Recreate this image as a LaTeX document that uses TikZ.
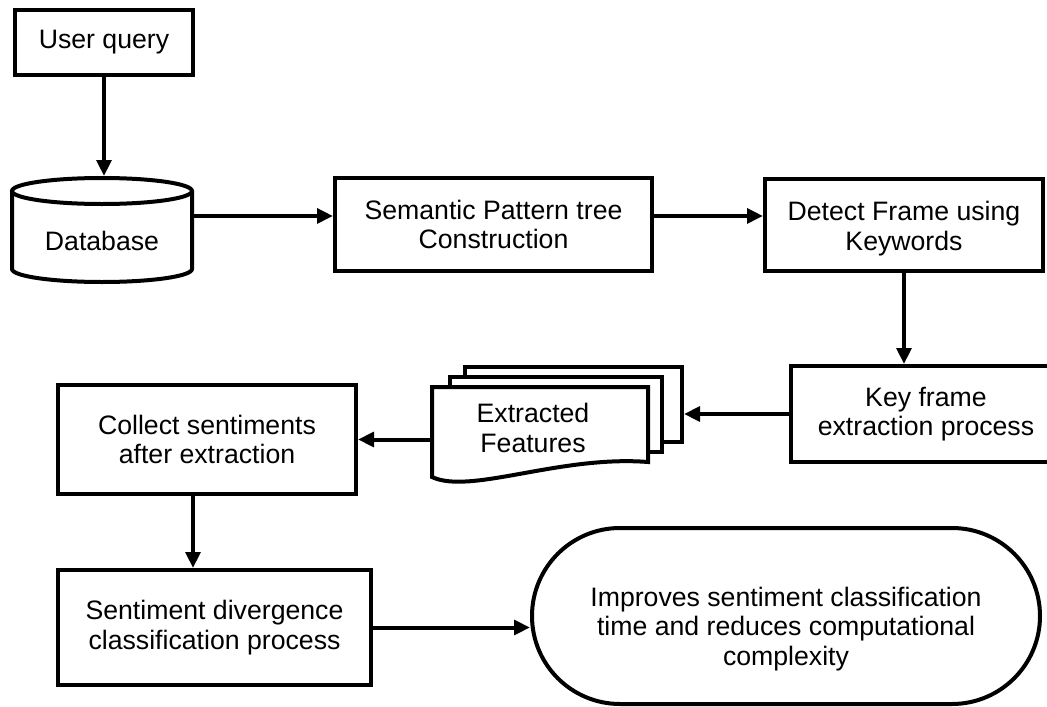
\documentclass[tikz,border=0pt]{standalone}
\usepackage{fontspec}
\setmainfont{Liberation Sans}
\usetikzlibrary{arrows.meta}

\begin{document}
\begin{tikzpicture}[x=0.75pt,y=-0.75pt,line width=3pt,
	font=\fontsize{20}{22}\selectfont,
	box/.style={draw,fill=white,align=center,inner sep=0pt},
	arr/.style={-{Triangle[length=12pt,width=11pt]}}]
			\useasboundingbox (0,0) rectangle (1047,707);
			\clip (0,0) rectangle (1047,707);

			% database drum
			\draw[fill=white] (12,191) -- (12,269) arc[start angle=180,end angle=360,x radius=67.5pt,y radius=9.75pt] -- (192,191);
			\draw[fill=white] (102,191) ellipse [x radius=67.5pt,y radius=9.75pt];

			% stacked documents
			\node[box,minimum width=162.75pt,minimum height=56.25pt] (featC) at (573.5,404.5) {};
			\node[box,minimum width=159pt,minimum height=56.25pt] (featB) at (556,414.5) {};
			\draw[fill=white] (432,387) -- (648,387) -- (648,462) .. controls (560,455) and (470,495) .. (432,477) -- cycle;

			\node[box,minimum width=133.5pt,minimum height=48.75pt] (query) at (104,42.5) {User query};
			\node[inner sep=0pt,minimum width=135pt,minimum height=78pt] (db) at (102,230) {\raisebox{-8.2pt}[\height][\depth]{Database}};
			\node[box,minimum width=237.75pt,minimum height=69.75pt] (sem) at (493.5,224.5) {Semantic Pattern tree\\Construction};
			\node[box,minimum width=208.5pt,minimum height=69pt] (det) at (904,225) {\raisebox{-3.5pt}[\height][\depth]{\begin{tabular}{@{}c@{}}Detect Frame using\\Keywords\end{tabular}}};
			\node[box,minimum width=202.5pt,minimum height=72pt] (key) at (926,414) {Key frame\\extraction process};
			\node[align=center,inner sep=0pt,minimum width=151.5pt] (feat) at (533,428) {Extracted\\Features};
			\node[box,minimum width=223.5pt,minimum height=81.75pt] (collect) at (207,439.5) {Collect sentiments\\after extraction};
			\node[box,minimum width=234.75pt,minimum height=86.25pt] (sent) at (214.5,627.5) {Sentiment divergence\\classification process};
			\node[draw,inner sep=0pt,rounded corners=66pt,minimum width=381pt,minimum height=132pt] (stad) at (786,616)
				{\raisebox{-10.5pt}[\height][\depth]{\begin{tabular}{@{}c@{}}Improves sentiment classification\\time and reduces computational\\complexity\end{tabular}}};

			\draw[arr] (query.south) -- (query.south |- db.north);
			\draw[arr] ([yshift=6.4pt]sem.west -| db.east) -- ([yshift=6.4pt]sem.west);
			\draw[arr] ([yshift=6.4pt]sem.east) -- ([yshift=6.4pt]sem.east -| det.west);
			\draw[arr] (det.south) -- (det.south |- key.north);
			\draw[arr] (key.west) -- (key.west -| featC.east);
			\draw[arr] (feat.west |- collect.east) -- (collect.east);
			\draw[arr] ([xshift=-10.5pt]collect.south) -- ([xshift=-10.5pt]collect.south |- sent.north);
			\draw[arr] (sent.east) -- (sent.east -| stad.west);
		\end{tikzpicture}
\end{document}
